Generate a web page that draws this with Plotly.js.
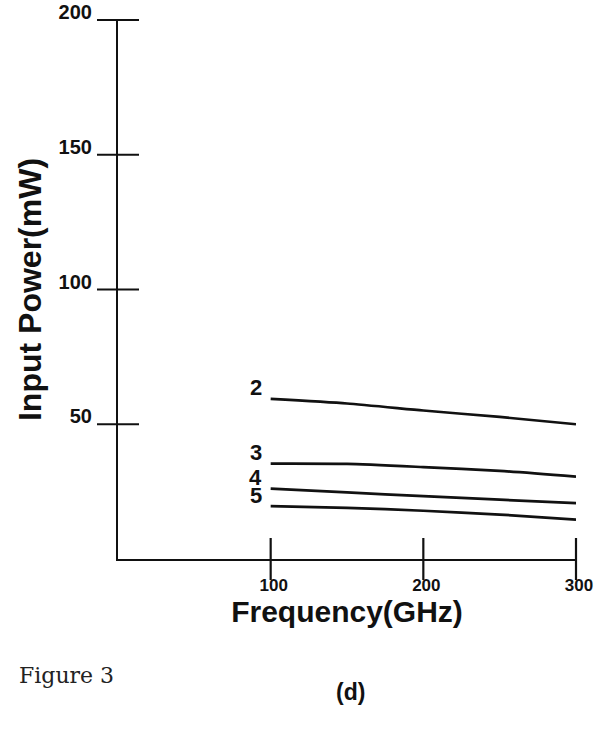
<!DOCTYPE html>
<html>
<head>
<meta charset="utf-8">
<script src="https://cdn.plot.ly/plotly-3.0.1.min.js"></script>
<style>
  html, body { margin: 0; padding: 0; background: #fff; }
  #chart { width: 605px; height: 729px; }
</style>
</head>
<body>
<div id="chart"></div>
<script>
// Frequency (GHz)
const freq = [100, 150, 200, 250, 300];
// Input power (mW) for curves labelled 2..5
const curve2 = [59.4, 57.7, 55.1, 52.7, 50.0];
const curve3 = [35.4, 35.3, 34.1, 32.7, 30.6];
const curve4 = [26.1, 24.7, 23.3, 22.0, 20.7];
const curve5 = [19.6, 19.0, 17.9, 16.5, 14.6];
const curveLabels = ["2", "3", "4", "5"];
const xTicks = [100, 200, 300];
const yTicks = [50, 100, 150, 200];

const series = [curve2, curve3, curve4, curve5];
const font = "Liberation Sans, Arial, sans-serif";
const ink = "#111";

const traces = series.map((ys, i) => ({
  x: freq, y: ys, type: "scatter", mode: "lines",
  line: { color: ink, width: 2.7, shape: "spline", smoothing: 0.6 },
  hoverinfo: "skip", showlegend: false, name: curveLabels[i], cliponaxis: false
}));

// tick marks that cross the axis lines, placed through the axis scales
traces.push({
  x: xTicks, y: xTicks.map(() => 0), type: "scatter", mode: "markers",
  marker: { symbol: "line-ns-open", size: 30, color: ink, line: { color: ink, width: 2.2 } },
  cliponaxis: false, hoverinfo: "skip", showlegend: false, name: "xticks"
});
traces.push({
  x: yTicks.map(() => 0), y: yTicks, type: "scatter", mode: "markers",
  marker: { symbol: "line-ew-open", size: 30, color: ink, line: { color: ink, width: 2.2 } },
  cliponaxis: false, hoverinfo: "skip", showlegend: false, name: "yticks"
});

const annotations = series.map((ys, i) => ({
  x: freq[0], y: ys[0], xref: "x", yref: "y",
  text: "<b>" + curveLabels[i] + "</b>",
  showarrow: false, xanchor: "right", yanchor: "middle",
  xshift: -7, yshift: 11,
  font: { family: font, size: 22, color: ink }
}));
annotations.push({
  xref: "paper", yref: "paper", x: -0.2205, y: -0.217,
  xanchor: "left", yanchor: "middle", showarrow: false,
  text: "Figure 3", font: { family: "DejaVu Serif, serif", size: 22, color: "#222" }
});
annotations.push({
  xref: "paper", yref: "paper", x: 0.5066, y: -0.2468,
  xanchor: "center", yanchor: "middle", showarrow: false,
  text: "<b>(d)</b>", font: { family: font, size: 23, color: ink }
});

const layout = {
  width: 605, height: 729,
  margin: { l: 118, r: 29, t: 20, b: 170 },
  paper_bgcolor: "#fff", plot_bgcolor: "#fff",
  showlegend: false,
  xaxis: {
    range: [0, 300], tickmode: "array", tickvals: xTicks,
    showgrid: false, zeroline: false,
    showline: true, linecolor: ink, linewidth: 2.2,
    ticks: "", ticklabelstandoff: 9, ticklabelshift: 3,
    tickfont: { family: font, size: 17, color: ink, weight: "bold" },
    title: { text: "<b>Frequency(GHz)</b>", font: { family: font, size: 30, color: ink }, standoff: 0 }
  },
  yaxis: {
    range: [0, 200], tickmode: "array", tickvals: yTicks,
    showgrid: false, zeroline: false,
    showline: true, linecolor: ink, linewidth: 2.2,
    ticks: "", ticklabelstandoff: 20, ticklabelshift: -8,
    tickfont: { family: font, size: 20, color: ink, weight: "bold" },
    title: { text: "<b>Input Power(mW)</b>", font: { family: font, size: 32, color: ink }, standoff: 7 }
  },
  annotations: annotations
};

Plotly.newPlot("chart", traces, layout, { displayModeBar: false });
</script>
</body>
</html>
